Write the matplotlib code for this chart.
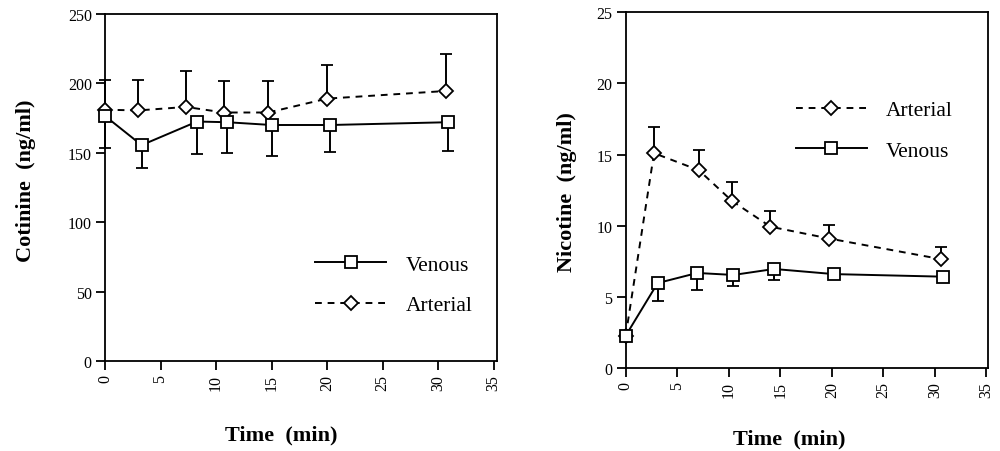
import numpy as np
import matplotlib
matplotlib.use("Agg")
import matplotlib.pyplot as plt

plt.rcParams['font.family'] = ['Liberation Serif', 'DejaVu Serif']

# Cotinine panel (left)
cot_ven_t = [0, 3.3, 8.3, 11.0, 15.0, 20.3, 30.9]
cot_ven = [176.5, 155.5, 172.5, 172, 170, 170, 172]
cot_ven_lo = [153.5, 138.8, 149, 149.5, 147.5, 150.5, 151]
cot_art_t = [0, 3.0, 7.3, 10.7, 14.7, 20.0, 30.7]
cot_art = [181, 180.5, 183, 179, 179, 189, 194.5]
cot_art_hi = [202.5, 202.5, 209, 201.5, 202, 213, 221]

# Nicotine panel (right)
nic_art_t = [0, 2.75, 7.1, 10.3, 14.05, 19.75, 30.6]
nic_art = [2.27, 15.1, 13.9, 11.75, 9.93, 9.1, 7.65]
nic_art_hi = [2.27, 16.95, 15.35, 13.1, 11.0, 10.05, 8.5]
nic_ven_t = [0, 3.1, 6.95, 10.45, 14.4, 20.2, 30.75]
nic_ven = [2.27, 5.97, 6.68, 6.54, 6.96, 6.6, 6.42]
nic_ven_lo = [2.27, 4.73, 5.5, 5.79, 6.19, 6.6, 6.42]

xticks = [0, 5, 10, 15, 20, 25, 30, 35]


def one_sided(ax, t, y, other, upper, ls, marker, ms, label):
    y = np.array(y, float)
    other = np.array(other, float)
    d = np.abs(other - y)
    yerr = [np.zeros_like(d), d] if upper else [d, np.zeros_like(d)]
    line, caps, bars = ax.errorbar(t, y, yerr=yerr, color='black', lw=1.4, ls=ls,
                                   dashes=(3.5, 3) if ls == '--' else (None, None),
                                   marker=marker, ms=ms, mfc='white', mec='black', mew=1.3,
                                   capsize=4.5, capthick=1.6, elinewidth=1.4,
                                   label=label, clip_on=False, zorder=3)
    caps[0 if upper else 1].set_visible(False)
    for c in caps:
        c.set_clip_on(False)
    for b in bars:
        b.set_clip_on(False)
    return line


def style_axes(ax, ylim, yticks, xmax):
    ax.set_xlim(0, xmax)
    ax.set_ylim(*ylim)
    ax.set_xticks(xticks)
    ax.set_xticklabels([str(v) for v in xticks], rotation=90)
    ax.set_yticks(yticks)
    ax.tick_params(direction='out', length=6.5, width=1.3, labelsize=11.5, pad=3,
                   top=False, right=False)
    for s in ax.spines.values():
        s.set_linewidth(1.3)


fig = plt.figure(figsize=(10, 4.52), dpi=100)

ax1 = fig.add_axes([0.105, 0.199, 0.392, 0.768])
a1 = one_sided(ax1, cot_art_t, cot_art, cot_art_hi, True, '--', 'D', 7, 'Arterial')
v1 = one_sided(ax1, cot_ven_t, cot_ven, cot_ven_lo, False, '-', 's', 8, 'Venous')
style_axes(ax1, (0, 250), [0, 50, 100, 150, 200, 250], 35.3)
ax1.set_ylabel('Cotinine  (ng/ml)', fontsize=16, fontweight='bold')
ax1.yaxis.set_label_coords(-0.176, 0.522)
ax1.set_xlabel('Time  (min)', fontsize=16, fontweight='bold')
ax1.xaxis.set_label_coords(0.449, -0.182)
ax1.legend([v1, a1], ['Venous', 'Arterial'], frameon=False, fontsize=15.5,
           handlelength=3.3, handletextpad=0.9, labelspacing=0.95, loc='center left',
           bbox_to_anchor=(0.487, 0.219))

ax2 = fig.add_axes([0.6257, 0.1836, 0.362, 0.787])
a2 = one_sided(ax2, nic_art_t, nic_art, nic_art_hi, True, '--', 'D', 7, 'Arterial')
v2 = one_sided(ax2, nic_ven_t, nic_ven, nic_ven_lo, False, '-', 's', 8, 'Venous')
style_axes(ax2, (0, 25), [0, 5, 10, 15, 20, 25], 35.13)
ax2.set_ylabel('Nicotine  (ng/ml)', fontsize=16, fontweight='bold')
ax2.yaxis.set_label_coords(-0.135, 0.498)
ax2.set_xlabel('Time  (min)', fontsize=16, fontweight='bold')
ax2.xaxis.set_label_coords(0.453, -0.171)
ax2.legend([a2, v2], ['Arterial', 'Venous'], frameon=False, fontsize=15.5,
           handlelength=3.3, handletextpad=0.9, labelspacing=0.95, loc='center left',
           bbox_to_anchor=(0.416, 0.668))

fig.savefig('out.png', dpi=100)
